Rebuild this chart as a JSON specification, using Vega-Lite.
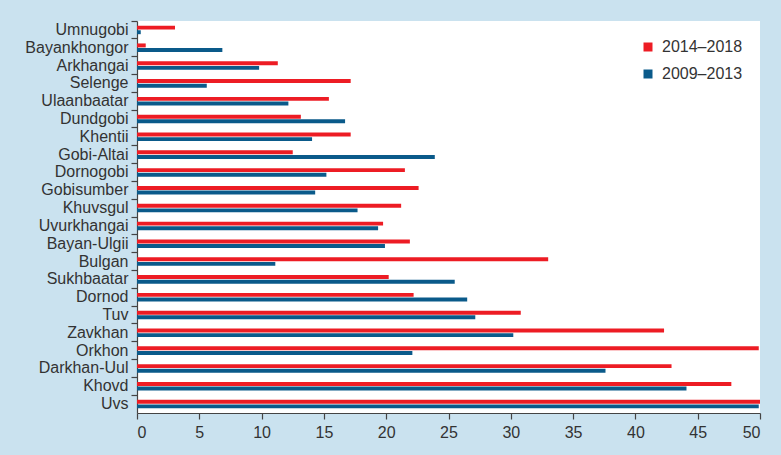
{
  "$schema": "https://vega.github.io/schema/vega-lite/v6.json",
  "width": 623,
  "height": 392,
  "autosize": {"type": "none"},
  "padding": {"left": 137, "top": 21, "right": 21, "bottom": 42},
  "background": "#cae2ef",
  "config": {
    "view": {"fill": "white", "stroke": null},
    "font": "Liberation Sans",
    "axis": {"labelFont": "Liberation Sans", "labelFontSize": 16, "labelColor": "#333333", "domainColor": "#444444", "tickColor": "#444444", "grid": false, "title": null}
  },
  "data": {
    "values": [
      {"region": "Umnugobi", "period": "2014–2018", "value": 3.05},
      {"region": "Umnugobi", "period": "2009–2013", "value": 0.3},
      {"region": "Bayankhongor", "period": "2014–2018", "value": 0.7},
      {"region": "Bayankhongor", "period": "2009–2013", "value": 6.85},
      {"region": "Arkhangai", "period": "2014–2018", "value": 11.3},
      {"region": "Arkhangai", "period": "2009–2013", "value": 9.8},
      {"region": "Selenge", "period": "2014–2018", "value": 17.15},
      {"region": "Selenge", "period": "2009–2013", "value": 5.6},
      {"region": "Ulaanbaatar", "period": "2014–2018", "value": 15.4},
      {"region": "Ulaanbaatar", "period": "2009–2013", "value": 12.15},
      {"region": "Dundgobi", "period": "2014–2018", "value": 13.15},
      {"region": "Dundgobi", "period": "2009–2013", "value": 16.7},
      {"region": "Khentii", "period": "2014–2018", "value": 17.15},
      {"region": "Khentii", "period": "2009–2013", "value": 14.05},
      {"region": "Gobi-Altai", "period": "2014–2018", "value": 12.5},
      {"region": "Gobi-Altai", "period": "2009–2013", "value": 23.9},
      {"region": "Dornogobi", "period": "2014–2018", "value": 21.5},
      {"region": "Dornogobi", "period": "2009–2013", "value": 15.2},
      {"region": "Gobisumber", "period": "2014–2018", "value": 22.6},
      {"region": "Gobisumber", "period": "2009–2013", "value": 14.3},
      {"region": "Khuvsgul", "period": "2014–2018", "value": 21.2},
      {"region": "Khuvsgul", "period": "2009–2013", "value": 17.7},
      {"region": "Uvurkhangai", "period": "2014–2018", "value": 19.75},
      {"region": "Uvurkhangai", "period": "2009–2013", "value": 19.35},
      {"region": "Bayan-Ulgii", "period": "2014–2018", "value": 21.9},
      {"region": "Bayan-Ulgii", "period": "2009–2013", "value": 19.9},
      {"region": "Bulgan", "period": "2014–2018", "value": 33.0},
      {"region": "Bulgan", "period": "2009–2013", "value": 11.1},
      {"region": "Sukhbaatar", "period": "2014–2018", "value": 20.2},
      {"region": "Sukhbaatar", "period": "2009–2013", "value": 25.5},
      {"region": "Dornod", "period": "2014–2018", "value": 22.2},
      {"region": "Dornod", "period": "2009–2013", "value": 26.5},
      {"region": "Tuv", "period": "2014–2018", "value": 30.8},
      {"region": "Tuv", "period": "2009–2013", "value": 27.15},
      {"region": "Zavkhan", "period": "2014–2018", "value": 42.3},
      {"region": "Zavkhan", "period": "2009–2013", "value": 30.2},
      {"region": "Orkhon", "period": "2014–2018", "value": 49.9},
      {"region": "Orkhon", "period": "2009–2013", "value": 22.1},
      {"region": "Darkhan-Uul", "period": "2014–2018", "value": 42.9},
      {"region": "Darkhan-Uul", "period": "2009–2013", "value": 37.6},
      {"region": "Khovd", "period": "2014–2018", "value": 47.7},
      {"region": "Khovd", "period": "2009–2013", "value": 44.1},
      {"region": "Uvs", "period": "2014–2018", "value": 50.0},
      {"region": "Uvs", "period": "2009–2013", "value": 49.9}
    ]
  },
  "mark": {"type": "bar", "clip": true},
  "encoding": {
    "y": {
      "field": "region",
      "type": "nominal",
      "sort": null,
      "scale": {"paddingInner": 0, "paddingOuter": 0},
      "axis": {"bandPosition": 0, "tickSize": 6, "labelPadding": 3, "domainWidth": 1.2, "tickWidth": 1.2}
    },
    "yOffset": {
      "field": "period",
      "type": "nominal",
      "sort": ["2014–2018", "2009–2013"],
      "scale": {"paddingInner": 0.15, "paddingOuter": 1.0}
    },
    "x": {
      "field": "value",
      "type": "quantitative",
      "scale": {"domain": [0, 50], "nice": false},
      "axis": {"values": [0, 5, 10, 15, 20, 25, 30, 35, 40, 45, 50], "tickSize": 6, "labelPadding": 5, "domainWidth": 1.2, "tickWidth": 1.2}
    },
    "color": {
      "field": "period",
      "type": "nominal",
      "scale": {"domain": ["2014–2018", "2009–2013"], "range": ["#ed1c24", "#0a5a8a"]},
      "legend": {
        "title": null,
        "orient": "none",
        "legendX": 503,
        "legendY": 18,
        "symbolType": "square",
        "symbolSize": 81,
        "symbolStrokeWidth": 0,
        "labelFontSize": 16,
        "labelColor": "#333333",
        "labelFont": "Liberation Sans",
        "rowPadding": 11,
        "labelOffset": 6
      }
    }
  }
}
